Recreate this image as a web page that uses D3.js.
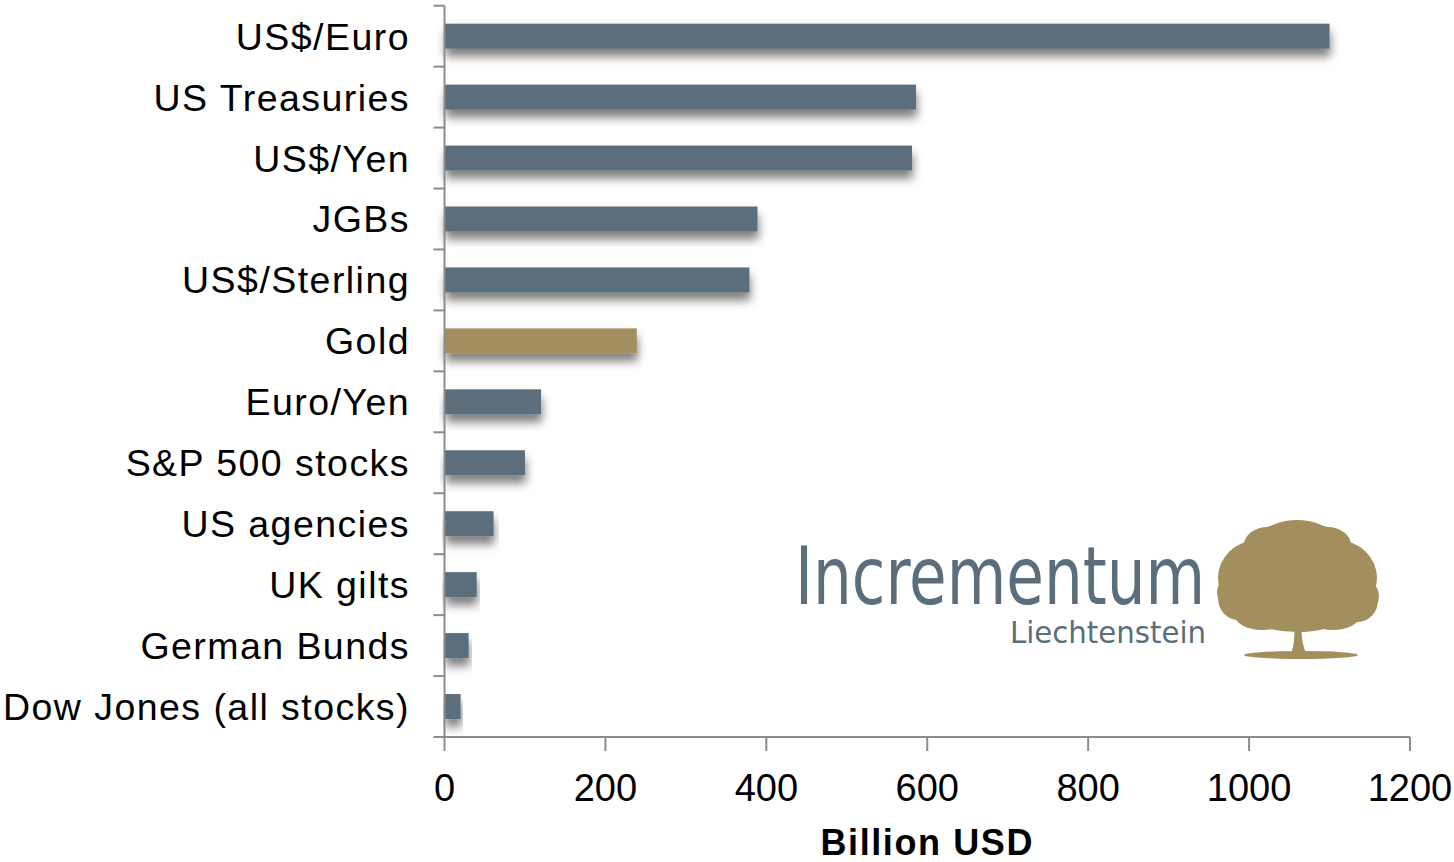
<!DOCTYPE html>
<html><head><meta charset="utf-8">
<script src="https://cdn.jsdelivr.net/npm/d3@7"></script>
<style>
html,body{margin:0;padding:0;background:#fff;}
svg{display:block;}
</style></head>
<body>
<script>
const categories = ["US$/Euro","US Treasuries","US$/Yen","JGBs","US$/Sterling","Gold","Euro/Yen","S&P 500 stocks","US agencies","UK gilts","German Bunds","Dow Jones (all stocks)"];
const values = [1100, 586, 581, 389, 379, 239, 120, 100, 61, 40, 30, 20];
const highlight = ["Gold"];
const xTicks = [0, 200, 400, 600, 800, 1000, 1200];
const xTitle = "Billion USD";
const logoName = "Incrementum";
const logoSub = "Liechtenstein";

(function(){
const W = 1454, H = 862;
const mLeft = 444.5, mRight = 1410, mTop = 5.7, mBottom = 737;
const svg = d3.select("body").append("svg").attr("width", W).attr("height", H);

const defs = svg.append("defs");
const f = defs.append("filter").attr("id","shadow").attr("x","-5%").attr("y","-60%").attr("width","115%").attr("height","300%");
f.append("feDropShadow").attr("dx",1).attr("dy",8).attr("stdDeviation",5).attr("flood-color","#000").attr("flood-opacity",0.5);

const x = d3.scaleLinear().domain([0,1200]).range([mLeft, mRight]);
const y = d3.scaleBand().domain(categories).range([mTop, mBottom]).paddingInner(0.59).paddingOuter(0.295);
const step = y.step();

const barCol = "#5B6E7B", goldCol = "#A38E5E", axisCol = "#8c8c8c";

// bars
svg.append("g").selectAll("rect").data(categories).join("rect")
  .attr("x", x(0))
  .attr("y", d => y(d))
  .attr("width", (d,i) => x(values[i]) - x(0))
  .attr("height", y.bandwidth())
  .attr("fill", d => highlight.includes(d) ? goldCol : barCol)
  .attr("filter","url(#shadow)");

// y axis
const ga = svg.append("g");
ga.append("line").attr("x1",mLeft).attr("x2",mLeft).attr("y1",mTop).attr("y2",mBottom)
  .attr("stroke",axisCol).attr("stroke-width",2);
ga.selectAll("line.t").data(d3.range(categories.length+1)).join("line").attr("class","t")
  .attr("x1",mLeft-11).attr("x2",mLeft).attr("y1",i=>mTop+i*step).attr("y2",i=>mTop+i*step)
  .attr("stroke",axisCol).attr("stroke-width",2);
ga.selectAll("text").data(categories).join("text")
  .attr("x", 410).attr("y", d => y(d) + y.bandwidth()/2).attr("dy","0.36em")
  .attr("text-anchor","end")
  .style("font-family","'Liberation Sans', Arial, sans-serif").style("font-size","37.5px")
  .style("letter-spacing","1.45px").attr("fill","#000")
  .text(d => d);

// x axis
const gx = svg.append("g");
gx.append("line").attr("x1",mLeft).attr("x2",mRight).attr("y1",mBottom).attr("y2",mBottom)
  .attr("stroke",axisCol).attr("stroke-width",2);
gx.selectAll("line.t").data(xTicks).join("line").attr("class","t")
  .attr("x1",d=>x(d)).attr("x2",d=>x(d)).attr("y1",mBottom).attr("y2",mBottom+14)
  .attr("stroke",axisCol).attr("stroke-width",2);
gx.selectAll("text").data(xTicks).join("text")
  .attr("x",d=>x(d)).attr("y",801).attr("text-anchor","middle")
  .style("font-family","'Liberation Sans', Arial, sans-serif").style("font-size","38px")
  .attr("fill","#000").text(d=>d);
svg.append("text").attr("x",(mLeft+mRight)/2).attr("y",855).attr("text-anchor","middle")
  .style("font-family","'Liberation Sans', Arial, sans-serif").style("font-size","36px").style("font-weight","bold")
  .style("letter-spacing","1.6px").text(xTitle);

// logo
const logo = svg.append("g");
logo.append("text").attr("x",795).attr("y",604)
  .attr("textLength",410).attr("lengthAdjust","spacingAndGlyphs")
  .style("font-family","'Liberation Sans Narrow','DejaVu Sans Condensed','Liberation Sans',sans-serif")
  .style("font-size","80px").attr("fill","#5A6E7B").text(logoName);
logo.append("text").attr("x",1010).attr("y",643)
  .attr("textLength",196).attr("lengthAdjust","spacingAndGlyphs")
  .style("font-family","'Liberation Sans Narrow','DejaVu Sans Condensed','Liberation Sans',sans-serif")
  .style("font-size","31px").attr("fill","#5A6E7B").text(logoSub);

// tree
const tree = logo.append("g").attr("fill", goldCol);
tree.append("ellipse").attr("cx",1301).attr("cy",655).attr("rx",57).attr("ry",4);
tree.append("path").attr("d","M1290,657 C1295,645 1295,630 1294,618 L1302,618 C1301,630 1301,645 1308,657 Z");
const blobs = [[1297,588,74,44],[1297,556,58,34],[1258,578,40,38],[1337,578,40,38],[1238,598,20,22],[1358,600,20,22],[1262,614,28,16],[1333,614,28,16],[1297,533,30,13],[1268,545,24,18],[1327,545,24,18],[1226,592,9,12],[1371,596,8,12],[1297,615,30,14]];
tree.selectAll("ellipse.b").data(blobs).join("ellipse").attr("class","b")
  .attr("cx",d=>d[0]).attr("cy",d=>d[1]).attr("rx",d=>d[2]).attr("ry",d=>d[3]);
})();
</script>
</body></html>
